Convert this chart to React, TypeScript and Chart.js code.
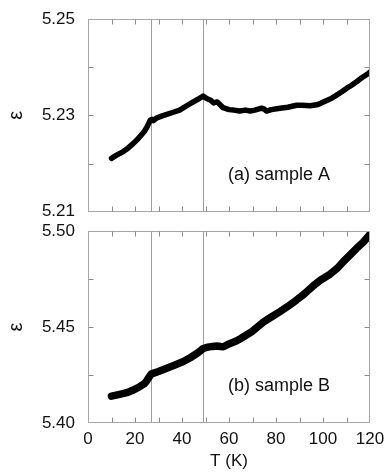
import { useEffect, useRef } from 'react';
import { Chart, registerables } from 'chart.js';

Chart.register(...registerables);

// ---- data ----
const tempA = [10, 12, 15, 17, 19.3, 21, 22.8, 24, 25, 26, 26.5, 27.2, 27.8, 29, 31, 33.5, 36, 39, 42, 44.8, 47, 49, 50.5, 52, 53.5, 55, 57.5, 60, 62, 64.5, 67, 69, 71, 73.9, 75, 76, 78, 81.7, 85, 88.8, 91, 94.5, 97.3, 99, 101.6, 103.5, 105.8, 108, 110, 112, 114.3, 116.5, 119.3, 120];
const epsA = [5.2211, 5.2217, 5.2225, 5.2232, 5.2242, 5.225, 5.226, 5.2267, 5.2275, 5.2285, 5.229, 5.2292, 5.2289, 5.2294, 5.2298, 5.2302, 5.2306, 5.2311, 5.232, 5.2328, 5.2334, 5.234, 5.2335, 5.2332, 5.2326, 5.2328, 5.2316, 5.2312, 5.2311, 5.2309, 5.2311, 5.2309, 5.2311, 5.2315, 5.2313, 5.2309, 5.2312, 5.2315, 5.2317, 5.2321, 5.2321, 5.232, 5.2322, 5.2325, 5.2331, 5.2335, 5.2342, 5.2349, 5.2356, 5.2362, 5.237, 5.2378, 5.2387, 5.239];

const tempB = [10, 13, 16.5, 19, 22, 24, 25, 26, 27, 28, 30, 33.5, 37, 40.6, 43.5, 46.3, 48, 49, 51, 53, 54.8, 56.5, 57.6, 60, 63.3, 65, 70, 74.6, 78, 81.7, 85, 88.8, 92, 95.9, 99, 103, 106, 108.6, 111.5, 114.3, 117, 119.5, 120];
const epsB = [5.414, 5.4148, 5.4158, 5.417, 5.4189, 5.4205, 5.422, 5.424, 5.4256, 5.426, 5.4268, 5.4285, 5.4302, 5.432, 5.434, 5.4362, 5.4378, 5.4388, 5.4395, 5.4399, 5.4401, 5.4398, 5.4397, 5.4412, 5.4428, 5.444, 5.4478, 5.4525, 5.4552, 5.458, 5.4607, 5.4641, 5.4672, 5.4715, 5.4745, 5.4775, 5.4805, 5.484, 5.4875, 5.491, 5.494, 5.4975, 5.4985];

const transitionTemps = [27, 49];
const xTickLabels = ['0', '20', '40', '60', '80', '100', '120'];
const yTickLabelsA = ['5.21', '5.23', '5.25'];
const yTickLabelsB = ['5.40', '5.45', '5.50'];
const panelLabels = ['(a) sample A', '(b) sample B'];
const xTitle = 'T (K)';
const yTitle = 'ε';

const FONT = '"Liberation Sans", Arial, Helvetica, sans-serif';

const framePlugin = {
  id: 'frame',
  beforeDatasetsDraw(chart: any) {
    const { ctx, chartArea: a, scales } = chart;
    const x = scales.x;
    ctx.save();
    ctx.strokeStyle = '#9c9c9c';
    ctx.lineWidth = 1;
    for (const t of transitionTemps) {
      const px = Math.round(x.getPixelForValue(t)) + 0.5;
      ctx.beginPath();
      ctx.moveTo(px, a.top);
      ctx.lineTo(px, a.bottom);
      ctx.stroke();
    }
    ctx.restore();
  },
  afterDraw(chart: any, _args: any, opts: any) {
    const { ctx, chartArea: a, scales } = chart;
    const x = scales.x;
    const y = scales.y;
    ctx.save();
    ctx.strokeStyle = '#a6a6a6';
    ctx.lineWidth = 1;
    const L = Math.round(a.left) + 0.5;
    const R = Math.round(a.right) - 0.5;
    const T = Math.round(a.top) + 0.5;
    const B = Math.round(a.bottom) - 0.5;
    ctx.strokeRect(L, T, R - L, B - T);
    const len = 5;
    ctx.strokeStyle = '#8c8c8c';
    ctx.beginPath();
    for (const t of x.ticks) {
      const px = Math.round(x.getPixelForValue(t.value)) + 0.5;
      if (px <= L + 1 || px >= R - 1) continue;
      ctx.moveTo(px, T);
      ctx.lineTo(px, T + len);
      ctx.moveTo(px, B);
      ctx.lineTo(px, B - len);
    }
    for (const t of y.ticks) {
      const py = Math.round(y.getPixelForValue(t.value)) + 0.5;
      if (py <= T + 1 || py >= B - 1) continue;
      ctx.moveTo(L, py);
      ctx.lineTo(L + len, py);
      ctx.moveTo(R, py);
      ctx.lineTo(R - len, py);
    }
    ctx.stroke();
    ctx.fillStyle = '#111';
    ctx.font = `18px ${FONT}`;
    ctx.textAlign = 'left';
    ctx.textBaseline = 'middle';
    ctx.fillText(opts.label, a.left + 140, a.bottom - 37);
    ctx.restore();
  },
};

function makeConfig(
  temps: number[],
  eps: number[],
  yMin: number,
  yMax: number,
  yStep: number,
  yLabels: string[],
  lineWidth: number,
  label: string,
  showX: boolean,
  padTop: number,
  padBottom: number
): any {
  return {
    type: 'line',
    data: {
      datasets: [
        {
          data: temps.map((t, i) => ({ x: t, y: eps[i] })),
          borderColor: '#000',
          backgroundColor: '#000',
          borderWidth: lineWidth,
          borderCapStyle: 'round',
          borderJoinStyle: 'round',
          pointRadius: 0,
          tension: 0,
          fill: false,
        },
      ],
    },
    options: {
      responsive: false,
      animation: false,
      events: [],
      layout: { autoPadding: false, padding: { top: padTop, right: 17, bottom: padBottom, left: 0 } },
      plugins: {
        legend: { display: false },
        tooltip: { enabled: false },
        frame: { label },
      },
      scales: {
        x: {
          type: 'linear',
          min: 0,
          max: 120,
          display: true,
          grid: { display: false, drawTicks: true, tickLength: 6, color: 'rgba(0,0,0,0)' },
          border: { display: false },
          afterFit: (s: any) => {
            s.height = showX ? 49 : 0;
          },
          ticks: {
            display: showX,
            stepSize: 10,
            autoSkip: false,
            maxRotation: 0,
            padding: 0,
            color: '#111',
            font: { family: FONT, size: 17 },
            callback: (v: any) => {
              const s = String(Math.round(Number(v)));
              return xTickLabels.includes(s) ? s : '';
            },
          },
          title: {
            display: showX,
            text: xTitle,
            color: '#111',
            font: { family: FONT, size: 17 },
            padding: { top: 0, bottom: 0 },
          },
        },
        y: {
          type: 'linear',
          min: yMin,
          max: yMax,
          grid: { display: false, drawTicks: true, tickLength: 13, color: 'rgba(0,0,0,0)' },
          border: { display: false },
          afterFit: (s: any) => {
            s.width = 88;
          },
          ticks: {
            stepSize: yStep,
            autoSkip: false,
            padding: 0,
            color: '#111',
            font: { family: FONT, size: 17 },
            callback: (v: any) => {
              const s = Number(v).toFixed(2);
              return yLabels.includes(s) ? s : '';
            },
          },
          title: {
            display: true,
            text: yTitle,
            color: '#111',
            font: { family: FONT, size: 20 },
            padding: { top: 4, bottom: 0 },
          },
        },
      },
    },
    plugins: [framePlugin],
  };
}

export default function App() {
  const topRef = useRef<HTMLCanvasElement>(null);
  const botRef = useRef<HTMLCanvasElement>(null);

  useEffect(() => {
    const c1 = new Chart(
      topRef.current as HTMLCanvasElement,
      makeConfig(tempA, epsA, 5.21, 5.25, 0.01, yTickLabelsA, 5.5, panelLabels[0], false, 19, 10)
    );
    const c2 = new Chart(
      botRef.current as HTMLCanvasElement,
      makeConfig(tempB, epsB, 5.4, 5.5, 0.025, yTickLabelsB, 7.5, panelLabels[1], true, 19, 0)
    );
    return () => {
      c1.destroy();
      c2.destroy();
    };
  }, []);

  return (
    <div style={{ position: 'fixed', left: 0, top: 0, width: 387, height: 472, background: '#fff' }}>
      <canvas ref={topRef} width={387} height={222} style={{ position: 'absolute', left: 0, top: 0 }} />
      <canvas ref={botRef} width={387} height={260} style={{ position: 'absolute', left: 0, top: 212 }} />
    </div>
  );
}
